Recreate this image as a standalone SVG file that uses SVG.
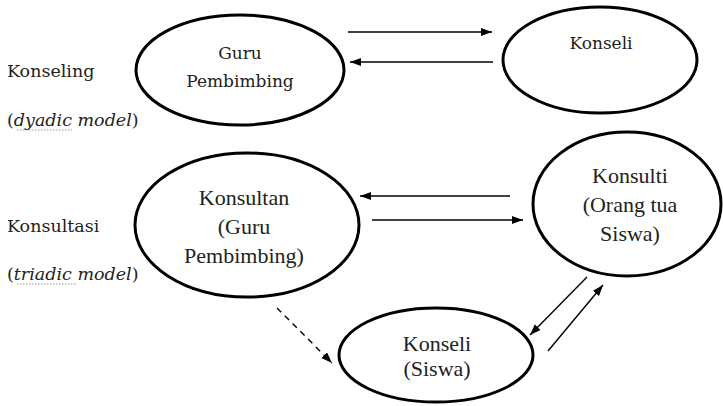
<svg xmlns="http://www.w3.org/2000/svg" width="723" height="406" viewBox="0 0 723 406">
<style>
.node{fill:#fff;stroke:#000;stroke-width:3}
.cam{font-family:"DejaVu Serif","Liberation Serif",serif;font-size:17px;fill:#222;text-anchor:middle}
.tnr{font-family:"Liberation Serif","Times New Roman",serif;font-size:22px;fill:#222;text-anchor:middle}
.lbl{font-family:"DejaVu Serif","Liberation Serif",serif;font-size:17.5px;fill:#222}
.conn{stroke:#000;stroke-width:1.4;fill:none}
.sq{stroke:#999;stroke-width:1.2;stroke-dasharray:1.5 1.5;fill:none}
</style>
<defs>
<marker id="ah" markerUnits="userSpaceOnUse" markerWidth="12" markerHeight="10" refX="11" refY="4" orient="auto">
<path d="M0,0 L11,4 L0,8 Z" fill="#000"/>
</marker>
</defs>
<rect width="723" height="406" fill="#fff"/>
<g id="labels">
<text class="lbl" x="7" y="77">Konseling</text>
<text class="lbl" x="7" y="126">(<tspan font-style="italic">dyadic model</tspan>)</text>
<path class="sq" d="M17,130 L72,130"/>
<text class="lbl" x="7" y="232">Konsultasi</text>
<text class="lbl" x="7" y="280">(<tspan font-style="italic">triadic model</tspan>)</text>
<path class="sq" d="M17,284 L76,284"/>
</g>
<g id="guru-pembimbing">
<ellipse class="node" cx="240" cy="70" rx="104" ry="55"/>
<text class="cam" x="240" y="59">Guru</text>
<text class="cam" x="240" y="87">Pembimbing</text>
</g>
<g id="konseli-top">
<ellipse class="node" cx="600" cy="60" rx="97" ry="53"/>
<text class="cam" x="601" y="49">Konseli</text>
</g>
<g id="konsultan">
<ellipse class="node" cx="247" cy="225" rx="112" ry="72"/>
<text class="tnr" x="244" y="205">Konsultan</text>
<text class="tnr" x="244" y="234">(Guru</text>
<text class="tnr" x="244" y="263">Pembimbing)</text>
</g>
<g id="konsulti">
<ellipse class="node" cx="627" cy="204" rx="94" ry="72"/>
<text class="tnr" x="630" y="183">Konsulti</text>
<text class="tnr" x="630" y="212">(Orang tua</text>
<text class="tnr" x="630" y="241">Siswa)</text>
</g>
<g id="konseli-siswa">
<ellipse class="node" cx="436" cy="355" rx="97" ry="47"/>
<text class="tnr" x="437" y="351">Konseli</text>
<text class="tnr" x="437" y="376">(Siswa)</text>
</g>
<g id="connectors">
<path class="conn" d="M348,32 L492,32" marker-end="url(#ah)"/>
<path class="conn" d="M493,62 L350,62" marker-end="url(#ah)"/>
<path class="conn" d="M510,196 L360,196" marker-end="url(#ah)"/>
<path class="conn" d="M372,220 L523,220" marker-end="url(#ah)"/>
<path class="conn" d="M277,308 L332,363" stroke-dasharray="6 5" marker-end="url(#ah)"/>
<path class="conn" d="M587,277 L530,335" marker-end="url(#ah)"/>
<path class="conn" d="M548,351 L603,285" marker-end="url(#ah)"/>
</g>
</svg>
